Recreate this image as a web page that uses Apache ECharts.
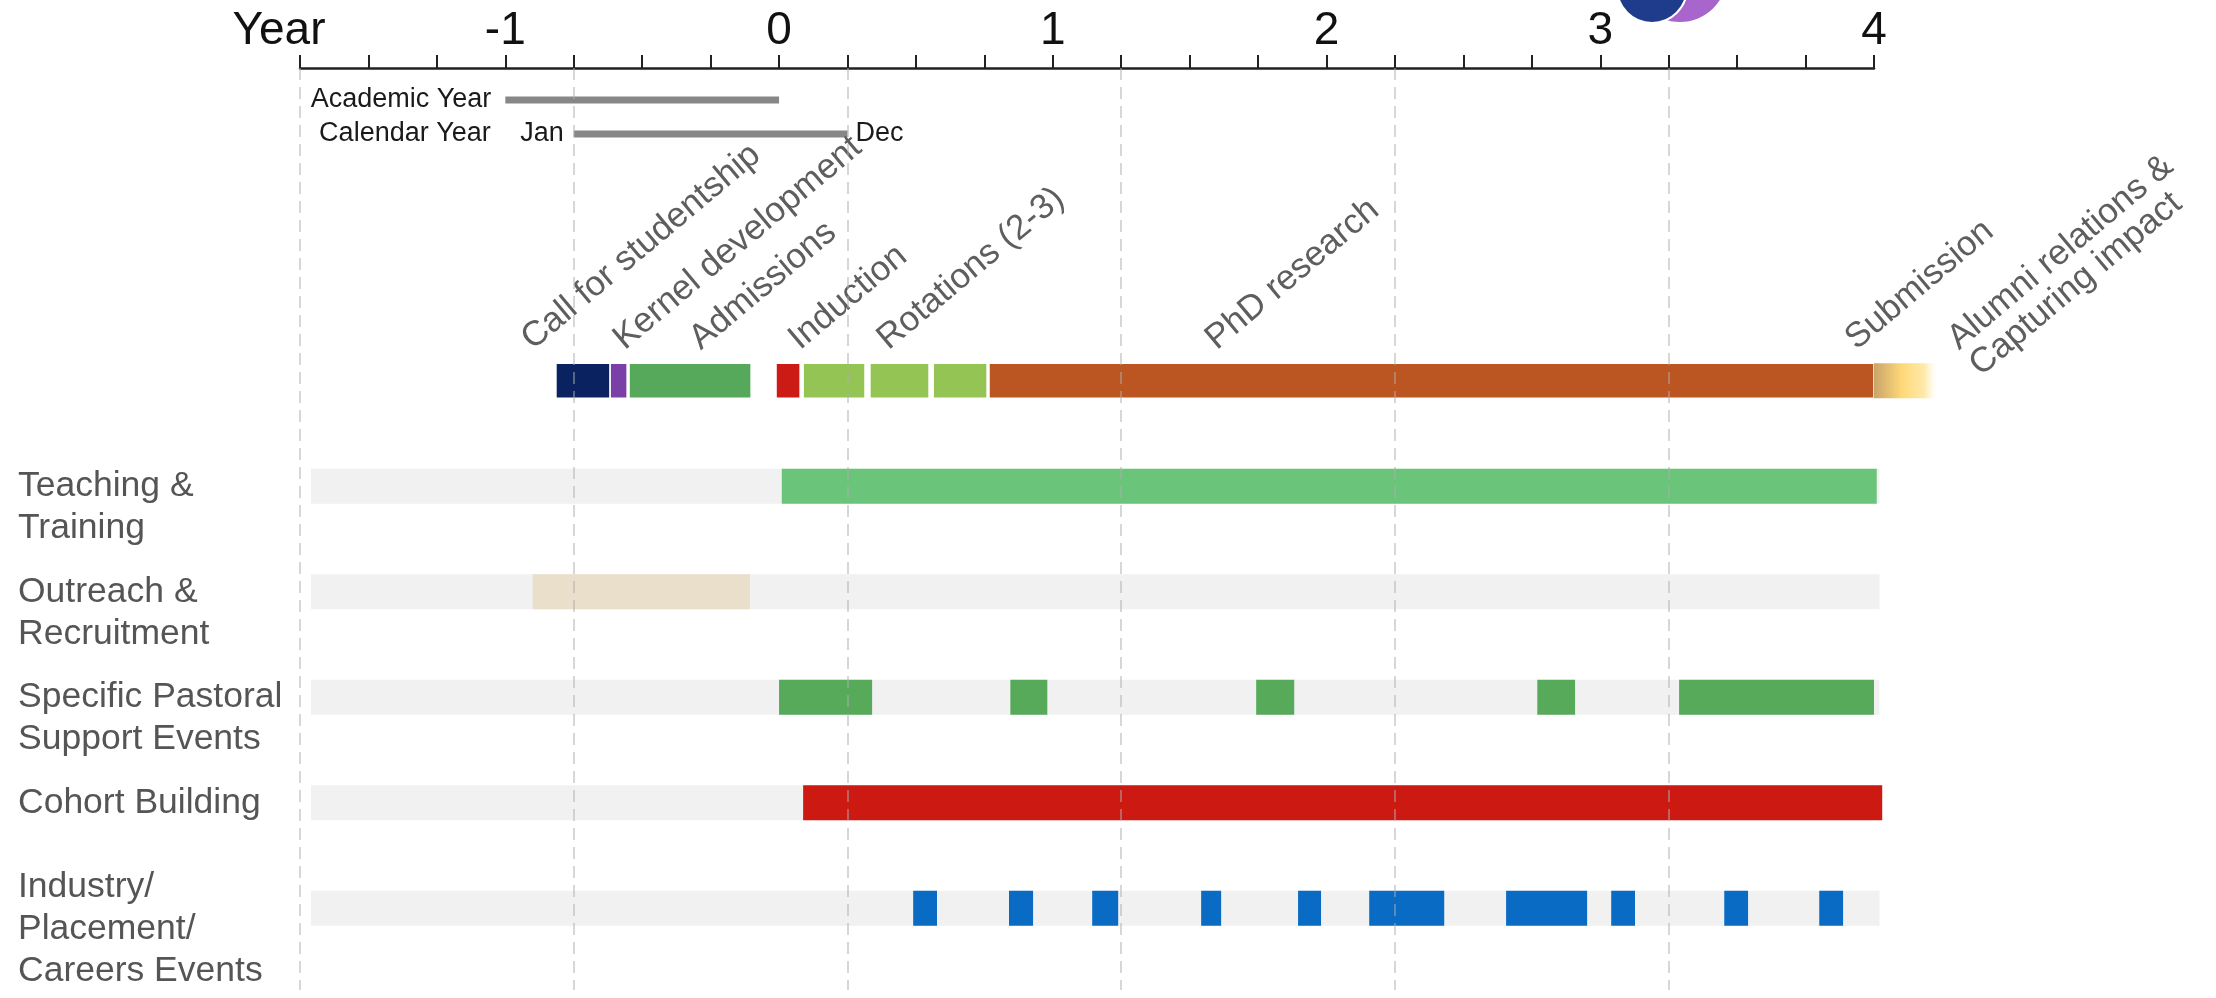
<!DOCTYPE html>
<html><head><meta charset="utf-8">
<script src="https://cdn.jsdelivr.net/npm/echarts@6/dist/echarts.min.js"></script>
<style>html,body{margin:0;padding:0;background:#fff}#c{width:2216px;height:998px}</style>
</head><body><div id="c"></div>
<script>
// ---------- data ----------
const yearMin = -1.75, yearMax = 4;
const rowNames = ['', 'Teaching &\nTraining', 'Outreach &\nRecruitment', 'Specific Pastoral\nSupport Events', 'Cohort Building', 'Industry/\nPlacement/\nCareers Events'];
const rulerNames = ['Academic Year', 'Calendar Year'];
const academicYear = [-1, 0];
const calendarYear = [-0.75, 0.25];
const calendarEnds = ['Jan', 'Dec'];

const phaseNames = ['Call for studentship', 'Kernel development', 'Admissions', 'Induction', 'Rotation 1', 'Rotation 2', 'Rotation 3', 'PhD research', 'Alumni relations'];
const phaseStart = [-0.815, -0.617, -0.548, -0.011, 0.088, 0.332, 0.563, 0.767, 4.0];
const phaseEnd   = [-0.617, -0.555, -0.102, 0.077, 0.314, 0.548, 0.760, 4.0, 4.23];

const phaseLabelText = ['Call for studentship', 'Kernel development', 'Admissions', 'Induction', 'Rotations (2-3)', 'PhD research', 'Submission', 'Alumni relations &\nCapturing impact'];
const phaseLabelYear = [-0.93, -0.594, -0.316, 0.046, 0.37, 1.569, 3.906, 4.28];

const trackSpan = [-1.71, 4.02];
const teachingSpans = [[0.01, 4.01]];
const outreachSpans = [[-0.90, -0.106]];
const pastoralSpans = [[0.0, 0.34], [0.845, 0.98], [1.743, 1.882], [2.77, 2.908], [3.288, 4.0]];
const cohortSpans = [[0.088, 4.03]];
const industrySpans = [[0.49, 0.577], [0.84, 0.928], [1.144, 1.239], [1.542, 1.615], [1.896, 1.98], [2.156, 2.43], [2.656, 2.952], [3.04, 3.127], [3.453, 3.54], [3.80, 3.887]];

// ---------- styles ----------
const FONT = '"Liberation Sans", Arial, sans-serif';
const BAR_H = 35;
const phaseColors = {
  'Call for studentship': '#0b2260',
  'Kernel development': '#7a40a8',
  'Admissions': '#56a95a',
  'Induction': '#cc1a14',
  'Rotation 1': '#93c454',
  'Rotation 2': '#93c454',
  'Rotation 3': '#93c454',
  'PhD research': '#bb5622',
  'Alumni relations': {type: 'linear', x: 0, y: 0, x2: 1, y2: 0, colorStops: [
    {offset: 0, color: '#c9a46a'}, {offset: 0.45, color: '#ffd978'}, {offset: 0.8, color: '#ffe9aa'}, {offset: 1, color: 'rgba(255,245,215,0)'}]}
};

function spanRender(color) {
  return function (params, api) {
    const a = api.coord([api.value(0), api.value(2)]);
    const b = api.coord([api.value(1), api.value(2)]);
    return {type: 'rect', shape: {x: a[0], y: a[1] - BAR_H / 2, width: b[0] - a[0], height: BAR_H}, style: {fill: color}};
  };
}
function spanSeries(name, spans, row, color) {
  return {
    type: 'custom', name: name, xAxisIndex: 1, yAxisIndex: 1, z: 3,
    encode: {x: [0, 1], y: 2},
    data: spans.map(s => [s[0], s[1], row]),
    renderItem: spanRender(color)
  };
}

const series = [];
// background tracks
series.push({
  type: 'custom', name: 'track', xAxisIndex: 1, yAxisIndex: 1, z: 2,
  encode: {x: [0, 1], y: 2},
  data: [1, 2, 3, 4, 5].map(r => [trackSpan[0], trackSpan[1], r]),
  renderItem: spanRender('#f1f1f1')
});
// phases
series.push({
  type: 'custom', name: 'phases', xAxisIndex: 1, yAxisIndex: 1, z: 3,
  encode: {x: [0, 1], y: 2},
  data: phaseNames.map((n, i) => [phaseStart[i], phaseEnd[i], 0, i]),
  renderItem: function (params, api) {
    const a = api.coord([api.value(0), 0]);
    const b = api.coord([api.value(1), 0]);
    const idx = api.value(3);
    const name = phaseNames[idx];
    const last = idx === phaseNames.length - 1;
    return {type: 'rect', shape: {x: a[0], y: a[1] - BAR_H / 2, width: b[0] - a[0], height: BAR_H},
      style: {fill: phaseColors[name], stroke: last ? null : '#ffffff', lineWidth: last ? 0 : 1.5}};
  }
});
// phase labels
series.push({
  type: 'custom', name: 'phaseLabels', xAxisIndex: 1, yAxisIndex: 1, z: 4,
  encode: {x: 0, y: 1},
  data: phaseLabelText.map((t, i) => [phaseLabelYear[i], 0, i]),
  renderItem: function (params, api) {
    const p = api.coord([api.value(0), 0]);
    const txt = phaseLabelText[api.value(2)];
    const n = txt.split('\n').length;
    const LH = 34;
    return {
      type: 'text', x: p[0] + 13, y: p[1] - BAR_H / 2 - 7, rotation: 40 * Math.PI / 180,
      style: {text: txt, x: 0, y: (n - 1) * LH, align: 'left', verticalAlign: 'bottom', lineHeight: LH, font: '35px ' + FONT, fill: '#5e5e5e'}
    };
  }
});
series.push(spanSeries('Teaching & Training', teachingSpans, 1, '#6ac47a'));
series.push(spanSeries('Outreach & Recruitment', outreachSpans, 2, '#eadfca'));
series.push(spanSeries('Specific Pastoral Support Events', pastoralSpans, 3, '#56aa5a'));
series.push(spanSeries('Cohort Building', cohortSpans, 4, '#cc1a12'));
series.push(spanSeries('Industry/Placement/Careers Events', industrySpans, 5, '#0a6bc5'));
// ruler bars (academic / calendar)
series.push({
  type: 'custom', name: 'ruler', xAxisIndex: 0, yAxisIndex: 0, z: 3,
  encode: {x: [0, 1], y: 2},
  data: [[academicYear[0], academicYear[1], 0], [calendarYear[0], calendarYear[1], 1]],
  renderItem: function (params, api) {
    const row = api.value(2);
    const a = api.coord([api.value(0), row]);
    const b = api.coord([api.value(1), row]);
    const tf = '27px ' + FONT;
    const children = [
      {type: 'rect', shape: {x: a[0], y: a[1] - 3.5, width: b[0] - a[0], height: 7}, style: {fill: '#878787'}}
    ];
    if (row === 0) {
      children.push({type: 'text', style: {text: rulerNames[0], x: a[0] - 14, y: a[1], align: 'right', verticalAlign: 'middle', font: tf, fill: '#1a1a1a'}});
    } else {
      children.push({type: 'text', style: {text: rulerNames[1], x: a[0] - 83, y: a[1], align: 'right', verticalAlign: 'middle', font: tf, fill: '#1a1a1a'}});
      children.push({type: 'text', style: {text: calendarEnds[0], x: a[0] - 10, y: a[1], align: 'right', verticalAlign: 'middle', font: tf, fill: '#1a1a1a'}});
      children.push({type: 'text', style: {text: calendarEnds[1], x: b[0] + 8, y: a[1], align: 'left', verticalAlign: 'middle', font: tf, fill: '#1a1a1a'}});
    }
    return {type: 'group', children: children};
  }
});

const chart = echarts.init(document.getElementById('c'), null, {renderer: 'canvas'});
chart.setOption({
  backgroundColor: '#ffffff',
  animation: false,
  grid: [
    {left: 300, right: 342, top: 83, height: 68},
    {left: 300, right: 342, top: 328, height: 633},
    {left: 300, width: 1368.5, top: 68, bottom: 8}
  ],
  xAxis: [
    {gridIndex: 0, type: 'value', position: 'top', offset: 15, min: yearMin, max: yearMax, interval: 0.25,
     axisLine: {show: true, lineStyle: {color: '#222', width: 2.5}},
     axisTick: {show: true, length: 13, lineStyle: {color: '#222', width: 2}},
     axisLabel: {show: true, margin: 14, fontSize: 46, fontFamily: FONT, color: '#111',
       formatter: v => (Math.abs(v - Math.round(v)) < 1e-9 ? String(Math.round(v)) : '')},
     splitLine: {show: false}},
    {gridIndex: 1, type: 'value', min: yearMin, max: yearMax, show: false},
    {gridIndex: 2, type: 'value', min: -1.75, max: 3.25, interval: 1, z: 10,
     axisLine: {show: false}, axisTick: {show: false}, axisLabel: {show: false},
     splitLine: {show: true, lineStyle: {type: [12, 7], color: 'rgba(175,175,175,0.65)', width: 1.5}}}
  ],
  yAxis: [
    {gridIndex: 0, type: 'category', data: rulerNames, inverse: true, show: false},
    {gridIndex: 1, type: 'category', data: rowNames, inverse: true,
     axisLine: {show: false}, axisTick: {show: false}, splitLine: {show: false},
     axisLabel: {show: true, align: 'left', margin: 282, fontSize: 35.5, lineHeight: 42, color: '#555', fontFamily: FONT,
       formatter: v => (v.indexOf('\n') >= 0 ? '\n' + v : v)}},
    {gridIndex: 2, type: 'value', show: false}
  ],
  graphic: [
    {type: 'text', x: 279, y: 54, z: 10, style: {text: 'Year', align: 'center', verticalAlign: 'bottom', font: '46px ' + FONT, fill: '#111'}},
    {type: 'circle', z: 20, shape: {cx: 1680, cy: -25, r: 47}, style: {fill: '#a865cc'}},
    {type: 'circle', z: 21, shape: {cx: 1652, cy: -12, r: 35}, style: {fill: '#1f3c8c', stroke: '#ffffff', lineWidth: 2}}
  ],
  series: series
});
</script>
</body></html>
